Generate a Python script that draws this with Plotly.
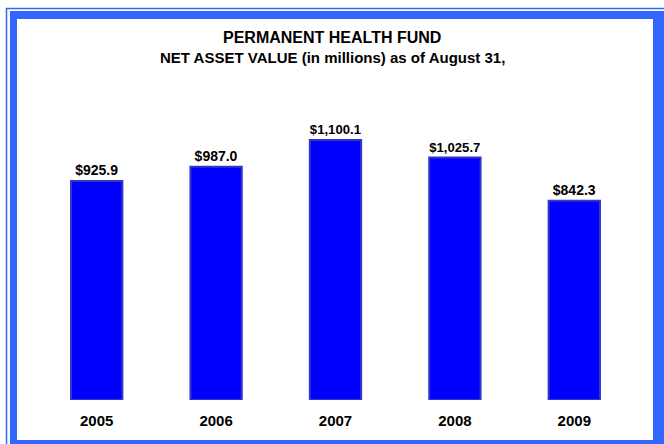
import plotly.graph_objects as go

years = ["2005", "2006", "2007", "2008", "2009"]
values = [925.9, 987.0, 1100.1, 1025.7, 842.3]
title_lines = ["PERMANENT HEALTH FUND", "NET ASSET VALUE (in millions) as of August 31,"]

W, H = 664, 444
L, R, T, B = 37, 30, 60, 44  # plot area 37..634 x 60..400
pw, ph = W - L - R, H - T - B

def px(x):
    return (x - L) / pw

def py(y):
    return (H - B - y) / ph

FONT = "Liberation Sans, Arial, sans-serif"

fig = go.Figure(
    go.Bar(
        x=years,
        y=values,
        width=0.43,
        marker=dict(color="#0000FF", line=dict(color="#3535C8", width=2)),
        texttemplate="$%{y:,.1f}",
        textposition="outside",
        textfont=dict(family=FONT, size=14, color="#000000", weight="bold"),
        cliponaxis=False,
        hoverinfo="skip",
    )
)

shapes = [
    # thick blue frame band
    dict(type="rect", xref="paper", yref="paper", layer="below",
         x0=px(10), x1=px(680), y0=py(11), y1=py(460),
         fillcolor="#3366FF", line=dict(width=0)),
    dict(type="rect", xref="paper", yref="paper", layer="below",
         x0=px(17), x1=px(653), y0=py(19), y1=py(440),
         fillcolor="#FFFFFF", line=dict(width=0)),
    # thin outer line
    dict(type="rect", xref="paper", yref="paper", layer="below",
         x0=px(6.5), x1=px(700), y0=py(8.5), y1=py(700),
         fillcolor="rgba(0,0,0,0)", line=dict(color="#3366FF", width=1.5)),
]

annotations = [
    dict(text=title_lines[0], xref="paper", yref="paper", x=px(332), y=py(47.5),
         xanchor="center", yanchor="bottom", showarrow=False, borderpad=0,
         font=dict(family=FONT, size=16, color="#000000", weight="bold")),
    dict(text=title_lines[1], xref="paper", yref="paper", x=px(332), y=py(48.5),
         xanchor="center", yanchor="top", showarrow=False, borderpad=0,
         font=dict(family=FONT, size=15, color="#000000", weight="bold")),
]

fig.update_layout(
    width=W, height=H,
    margin=dict(l=L, r=R, t=T, b=B, pad=0),
    paper_bgcolor="#FFFFFF",
    plot_bgcolor="rgba(0,0,0,0)",
    showlegend=False,
    shapes=shapes,
    annotations=annotations,
    xaxis=dict(
        showline=False, showgrid=False, zeroline=False, ticks="",
        tickfont=dict(family=FONT, size=15, color="#000000", weight="bold"),
        ticklabelstandoff=10,
    ),
    yaxis=dict(visible=False, range=[0, 1438], showgrid=False, zeroline=False),
)

fig.write_html("out.html", config={"displayModeBar": False},
               post_script="document.body.style.margin='0';")
